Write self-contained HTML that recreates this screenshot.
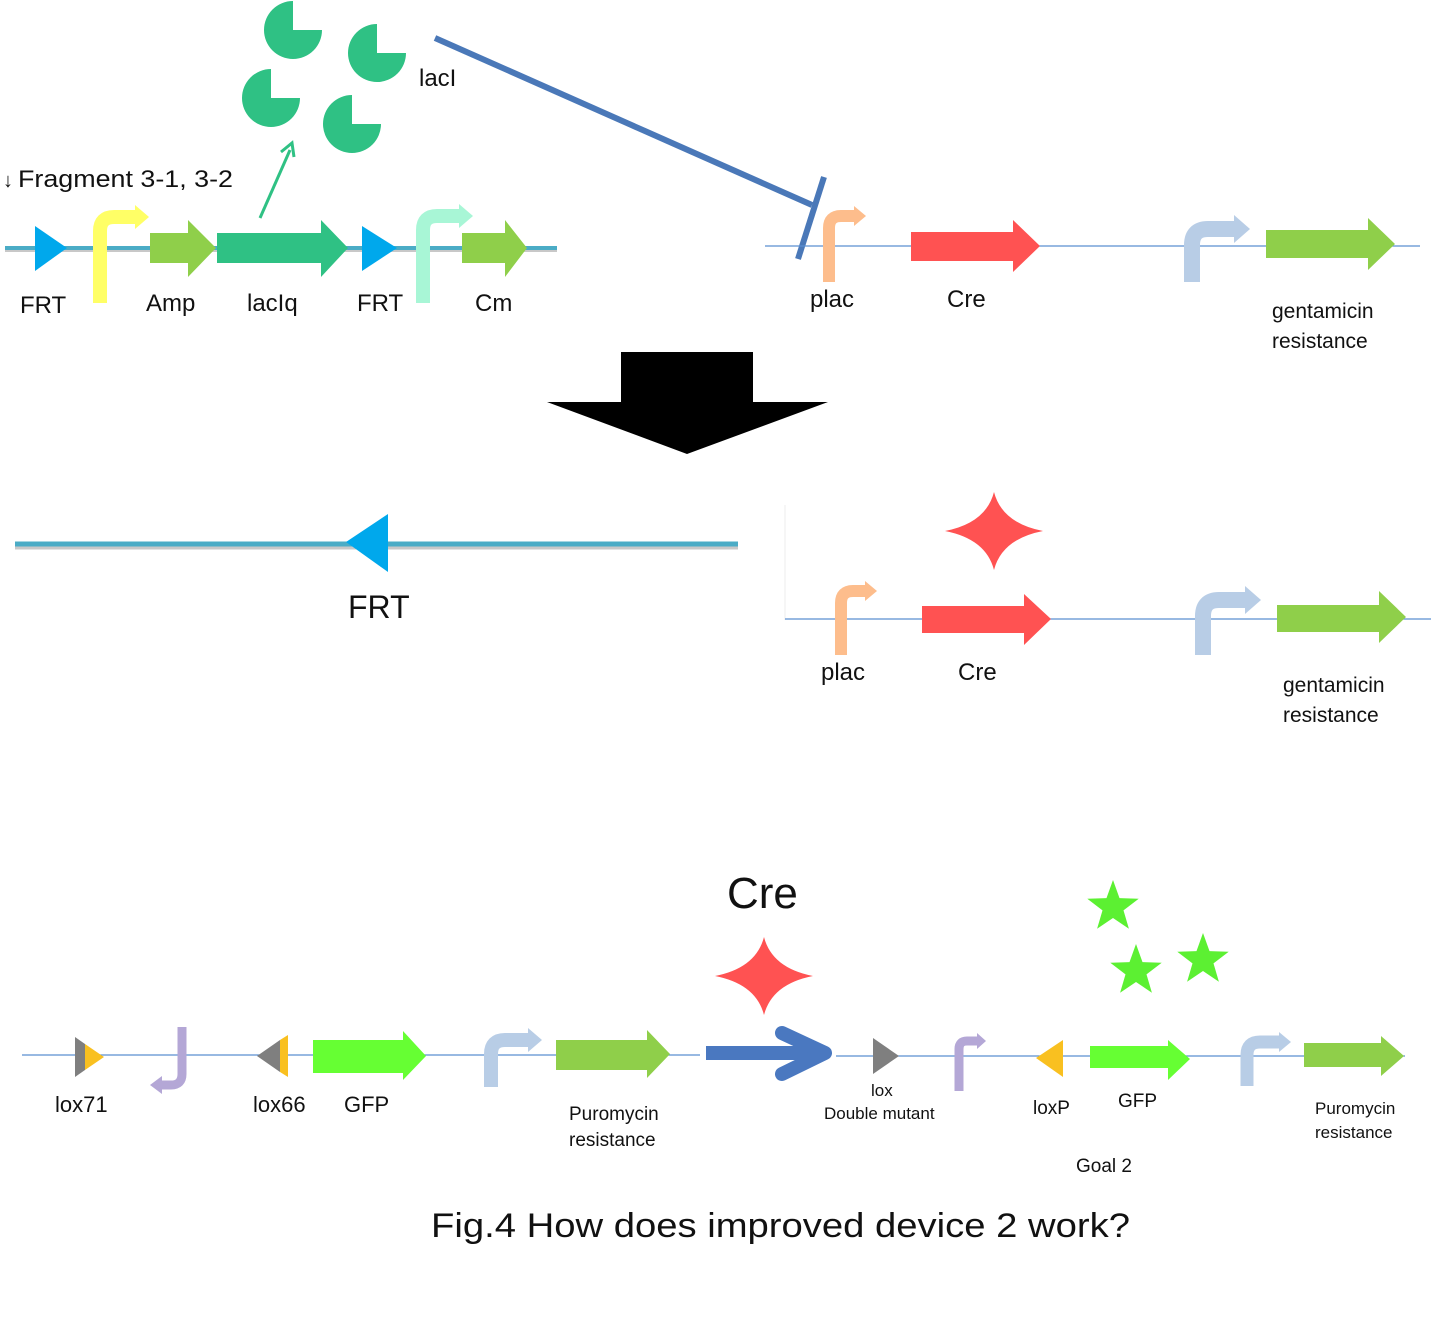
<!DOCTYPE html>
<html><head><meta charset="utf-8"><style>
html,body{margin:0;padding:0;background:#fff;}
svg{display:block;}
text{font-family:"Liberation Sans",sans-serif;fill:#111;}
</style></head><body>
<svg width="1431" height="1320" viewBox="0 0 1431 1320" xmlns="http://www.w3.org/2000/svg">
<defs>
<path id="pac" d="M0,-29 A29,29 0 1 0 29,0 L0,0 Z" fill="#2fc184"/>
<polygon id="st" points="0,-27 6.5,-8.9 25.7,-8.3 10.5,3.4 15.9,21.8 0,11 -15.9,21.8 -10.5,3.4 -25.7,-8.3 -6.5,-8.9" fill="#5cf032"/>
<path id="cross" d="M0,-39 Q8,-8 49,0 Q8,8 0,39 Q-8,8 -49,0 Q-8,-8 0,-39Z" fill="#ff5252"/>
</defs>

<!-- TOP LEFT -->
<use href="#pac" x="293" y="30"/>
<use href="#pac" x="377" y="53"/>
<use href="#pac" x="271" y="98"/>
<use href="#pac" x="352" y="124"/>
<text x="419" y="86" font-size="24">lacI</text>
<line x1="260" y1="218" x2="290" y2="150" stroke="#2fc184" stroke-width="3"/>
<polyline points="281,152 292,143 294,157" fill="none" stroke="#2fc184" stroke-width="3"/>
<text x="3" y="187" font-size="20">↓</text>
<text x="18" y="187" font-size="24" textLength="215" lengthAdjust="spacingAndGlyphs">Fragment 3-1, 3-2</text>
<line x1="5" y1="250" x2="557" y2="250" stroke="#c8c8c8" stroke-width="4"/>
<line x1="5" y1="248" x2="557" y2="248" stroke="#4bacc6" stroke-width="4"/>
<polygon points="35,226 67,248 35,271" fill="#00a8ec"/>
<path d="M100,303 V231 Q100,217 114,217 H135" fill="none" stroke="#ffff66" stroke-width="14"/>
<polygon points="135,205 149,217 135,229" fill="#ffff66"/>
<polygon points="150,233 188,233 188,220 216,248 188,277 188,263 150,263" fill="#8fcf4a"/>
<polygon points="217,233 321,233 321,220 348,248 321,277 321,263 217,263" fill="#2fc184"/>
<polygon points="362,226 397,248 362,271" fill="#00a8ec"/>
<path d="M423,303 V230 Q423,216 437,216 H459" fill="none" stroke="#a8f6d6" stroke-width="14"/>
<polygon points="459,204 473,216 459,228" fill="#a8f6d6"/>
<polygon points="462,233 505,233 505,220 527,248 505,277 505,263 462,263" fill="#8fcf4a"/>
<text x="20" y="313" font-size="24">FRT</text>
<text x="146" y="311" font-size="24">Amp</text>
<text x="247" y="311" font-size="24">lacIq</text>
<text x="357" y="311" font-size="24">FRT</text>
<text x="475" y="311" font-size="24">Cm</text>

<!-- inhibition -->
<line x1="435" y1="38" x2="812" y2="205" stroke="#4a78b8" stroke-width="6"/>
<line x1="798" y1="259" x2="824" y2="177" stroke="#4a78b8" stroke-width="6"/>

<!-- TOP RIGHT -->
<line x1="765" y1="246" x2="1420" y2="246" stroke="#5b8fd1" stroke-width="1.2"/>
<path d="M829,282 V228 Q829,216 841,216 H854" fill="none" stroke="#fdbd8c" stroke-width="12"/>
<polygon points="854,206 866,216 854,226" fill="#fdbd8c"/>
<polygon points="911,232 1013,232 1013,220 1040,246 1013,272 1013,261 911,261" fill="#ff5252"/>
<path d="M1192,282 V245 Q1192,229 1208,229 H1234" fill="none" stroke="#b8cde6" stroke-width="16"/>
<polygon points="1234,215 1250,229 1234,243" fill="#b8cde6"/>
<polygon points="1266,230 1368,230 1368,218 1395,244 1368,270 1368,258 1266,258" fill="#8fcf4a"/>
<text x="810" y="307" font-size="24">plac</text>
<text x="947" y="307" font-size="24">Cre</text>
<text x="1272" y="318" font-size="21">gentamicin</text>
<text x="1272" y="348" font-size="21">resistance</text>

<!-- big black arrow -->
<polygon points="621,352 753,352 753,402 828,402 687,454 547,402 621,402" fill="#000"/>

<!-- MIDDLE LEFT -->
<line x1="15" y1="547" x2="738" y2="547" stroke="#c8c8c8" stroke-width="5"/>
<line x1="15" y1="544" x2="738" y2="544" stroke="#4bacc6" stroke-width="5"/>
<polygon points="388,514 346,542 388,572" fill="#00a8ec"/>
<text x="348" y="618" font-size="32">FRT</text>

<!-- MIDDLE RIGHT -->
<line x1="785" y1="505" x2="785" y2="620" stroke="#eee" stroke-width="1"/>
<line x1="785" y1="619" x2="1431" y2="619" stroke="#5b8fd1" stroke-width="1.2"/>
<use href="#cross" x="994" y="531"/>
<path d="M841,655 V603 Q841,591 853,591 H865" fill="none" stroke="#fdbd8c" stroke-width="12"/>
<polygon points="865,581 877,591 865,601" fill="#fdbd8c"/>
<polygon points="922,606 1024,606 1024,594 1051,619 1024,645 1024,633 922,633" fill="#ff5252"/>
<path d="M1203,655 V616 Q1203,600 1219,600 H1245" fill="none" stroke="#b8cde6" stroke-width="16"/>
<polygon points="1245,586 1261,600 1245,614" fill="#b8cde6"/>
<polygon points="1277,605 1379,605 1379,591 1406,617 1379,643 1379,632 1277,632" fill="#8fcf4a"/>
<text x="821" y="680" font-size="24">plac</text>
<text x="958" y="680" font-size="24">Cre</text>
<text x="1283" y="692" font-size="21">gentamicin</text>
<text x="1283" y="722" font-size="21">resistance</text>

<!-- BOTTOM -->
<text x="727" y="908" font-size="44">Cre</text>
<use href="#cross" x="764" y="976"/>
<use href="#st" x="1113" y="907"/>
<use href="#st" x="1136" y="971"/>
<use href="#st" x="1203" y="960"/>

<line x1="22" y1="1055" x2="700" y2="1055" stroke="#5b8fd1" stroke-width="1.2"/>
<polygon points="75,1037 85,1044 85,1070 75,1077" fill="#7f7f7f"/>
<polygon points="85,1044 104,1057 85,1070" fill="#f9c020"/>
<path d="M182,1027 V1074 Q182,1085 171,1085 H162" fill="none" stroke="#b4a7d6" stroke-width="9"/>
<polygon points="162,1076 150,1085 162,1094" fill="#b4a7d6"/>
<polygon points="257,1056 280,1040 280,1072" fill="#7f7f7f"/>
<polygon points="280,1040 288,1035 288,1077 280,1072" fill="#f9c020"/>
<polygon points="313,1040 403,1040 403,1031 426,1056 403,1080 403,1073 313,1073" fill="#66ff33"/>
<path d="M491,1087 V1054 Q491,1040 505,1040 H528" fill="none" stroke="#b8cde6" stroke-width="14"/>
<polygon points="528,1028 542,1040 528,1052" fill="#b8cde6"/>
<polygon points="556,1040 647,1040 647,1030 670,1054 647,1078 647,1070 556,1070" fill="#8fcf4a"/>
<text x="55" y="1112" font-size="22">lox71</text>
<text x="253" y="1112" font-size="22">lox66</text>
<text x="344" y="1112" font-size="22">GFP</text>
<text x="569" y="1120" font-size="19">Puromycin</text>
<text x="569" y="1146" font-size="19">resistance</text>

<!-- blue arrow -->
<line x1="706" y1="1053" x2="822" y2="1053" stroke="#4a78c0" stroke-width="14"/>
<polyline points="782,1033 825,1053 782,1074" fill="none" stroke="#4a78c0" stroke-width="14" stroke-linecap="round" stroke-linejoin="round"/>

<line x1="836" y1="1056" x2="1405" y2="1056" stroke="#5b8fd1" stroke-width="1.2"/>
<polygon points="873,1038 899,1056 873,1074" fill="#7f7f7f"/>
<path d="M959,1091 V1049 Q959,1041 967,1041 H977" fill="none" stroke="#b4a7d6" stroke-width="9"/>
<polygon points="977,1033 986,1041 977,1049" fill="#b4a7d6"/>
<polygon points="1063,1040 1036,1058 1063,1077" fill="#f9c020"/>
<polygon points="1090,1046 1168,1046 1168,1040 1190,1059 1168,1080 1168,1068 1090,1068" fill="#66ff33"/>
<path d="M1247,1086 V1055 Q1247,1042 1260,1042 H1279" fill="none" stroke="#b8cde6" stroke-width="13"/>
<polygon points="1279,1032 1291,1042 1279,1052" fill="#b8cde6"/>
<polygon points="1304,1043 1381,1043 1381,1036 1404,1056 1381,1076 1381,1067 1304,1067" fill="#8fcf4a"/>
<text x="871" y="1096" font-size="17">lox</text>
<text x="824" y="1119" font-size="17">Double mutant</text>
<text x="1033" y="1114" font-size="19">loxP</text>
<text x="1118" y="1107" font-size="19">GFP</text>
<text x="1315" y="1114" font-size="17">Puromycin</text>
<text x="1315" y="1138" font-size="17">resistance</text>
<text x="1076" y="1172" font-size="19">Goal 2</text>

<text x="431" y="1237" font-size="34" textLength="699" lengthAdjust="spacingAndGlyphs">Fig.4  How does improved device 2 work?</text>
</svg>
</body></html>
